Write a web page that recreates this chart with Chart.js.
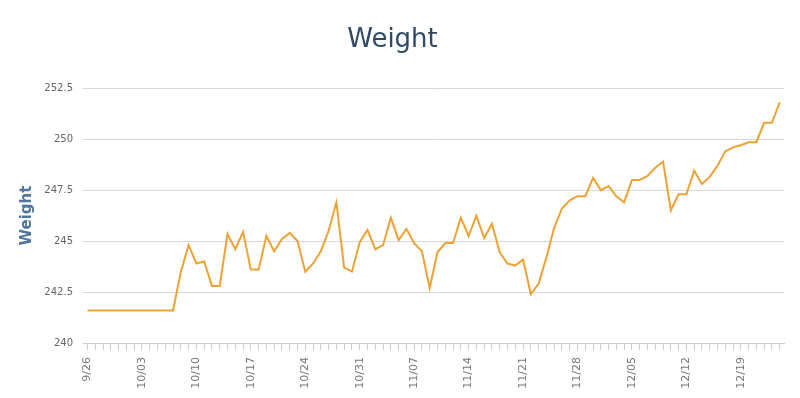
<!DOCTYPE html>
<html>
<head>
<meta charset="utf-8">
<script src="https://cdn.jsdelivr.net/npm/chart.js@4/dist/chart.umd.min.js"></script>
<style>
  html, body { margin: 0; padding: 0; background: #fff; }
  canvas { display: block; }
</style>
</head>
<body>
<canvas id="myChart" width="800" height="398"></canvas>
<script>
// one reading per day, starting 9/26
var weights = [
  241.6, 241.6, 241.6, 241.6, 241.6, 241.6, 241.6, 241.6, 241.6, 241.6, 241.6, 241.6,
  243.5, 244.8, 243.9, 244.0, 242.8, 242.8, 245.35, 244.6, 245.45, 243.6, 243.6,
  245.25, 244.5, 245.1, 245.4, 245.0, 243.5, 243.9, 244.5, 245.5, 246.9, 243.7,
  243.5, 244.95, 245.55, 244.6, 244.8, 246.15, 245.05, 245.6, 244.9, 244.5, 242.7,
  244.45, 244.9, 244.9, 246.15, 245.25, 246.25, 245.15, 245.85, 244.45, 243.9, 243.8,
  244.1, 242.4, 242.9, 244.2, 245.65, 246.6, 247.0, 247.2, 247.2, 248.1, 247.5,
  247.7, 247.2, 246.9, 248.0, 248.0, 248.2, 248.6, 248.9, 246.5, 247.3, 247.3,
  248.45, 247.8, 248.15, 248.7, 249.4, 249.6, 249.7, 249.85, 249.85, 250.8, 250.8, 251.8
];

// weekly labels, every 7th day
var tickLabels = ['9/26', '10/03', '10/10', '10/17', '10/24', '10/31', '11/07',
                  '11/14', '11/21', '11/28', '12/05', '12/12', '12/19'];

var yTicks = [240, 242.5, 245, 247.5, 250, 252.5];

var points = weights.map(function(w, i) { return { x: i, y: w }; });

var ctx = document.getElementById('myChart').getContext('2d');
var myChart = new Chart(ctx, {
    type: 'line',
    data: {
        datasets: [{
            label: 'Weight',
            data: points,
            borderColor: '#eea236',
            borderWidth: 2,
            pointRadius: 0,
            pointHoverRadius: 0,
            tension: 0,
            fill: false
        }]
    },
    options: {
        responsive: false,
        animation: false,
        layout: {
            padding: { left: 0, right: 15, top: 0, bottom: 0 }
        },
        plugins: {
            legend: { display: false },
            tooltip: { enabled: false },
            title: {
                display: true,
                text: 'Weight',
                color: '#2f4a68',
                font: { family: 'DejaVu Sans', size: 26, weight: 'normal', lineHeight: 1.2 },
                padding: { top: 25, bottom: 32 }
            }
        },
        scales: {
            x: {
                type: 'linear',
                min: -0.58,
                max: 89.58,
                afterFit: function(scale) { scale.height = 55; },
                grid: {
                    drawOnChartArea: false,
                    drawTicks: true,
                    tickLength: 7,
                    color: '#cccccc'
                },
                border: { display: true, color: '#cccccc', width: 1 },
                ticks: {
                    stepSize: 1,
                    includeBounds: false,
                    autoSkip: false,
                    maxRotation: 90,
                    minRotation: 90,
                    padding: 7,
                    color: '#777777',
                    font: { family: 'DejaVu Sans', size: 11 },
                    callback: function(v) {
                        return (v % 7 === 0) ? (tickLabels[v / 7] || '') : '';
                    }
                }
            },
            y: {
                min: 240,
                max: 252.5,
                afterFit: function(scale) { scale.width = 83; },
                afterBuildTicks: function(scale) {
                    scale.ticks = yTicks.map(function(v) { return { value: v }; });
                },
                grid: {
                    color: '#d8d8d8',
                    drawTicks: false
                },
                border: { display: false },
                ticks: {
                    padding: 10,
                    color: '#666666',
                    font: { family: 'DejaVu Sans', size: 10 },
                    callback: function(v) { return String(v); }
                },
                title: {
                    display: true,
                    text: 'Weight',
                    color: '#4d759e',
                    font: { family: 'DejaVu Sans', size: 15, weight: 'bold' },
                    padding: { top: 18, bottom: 0 }
                }
            }
        }
    }
});
</script>
</body>
</html>
